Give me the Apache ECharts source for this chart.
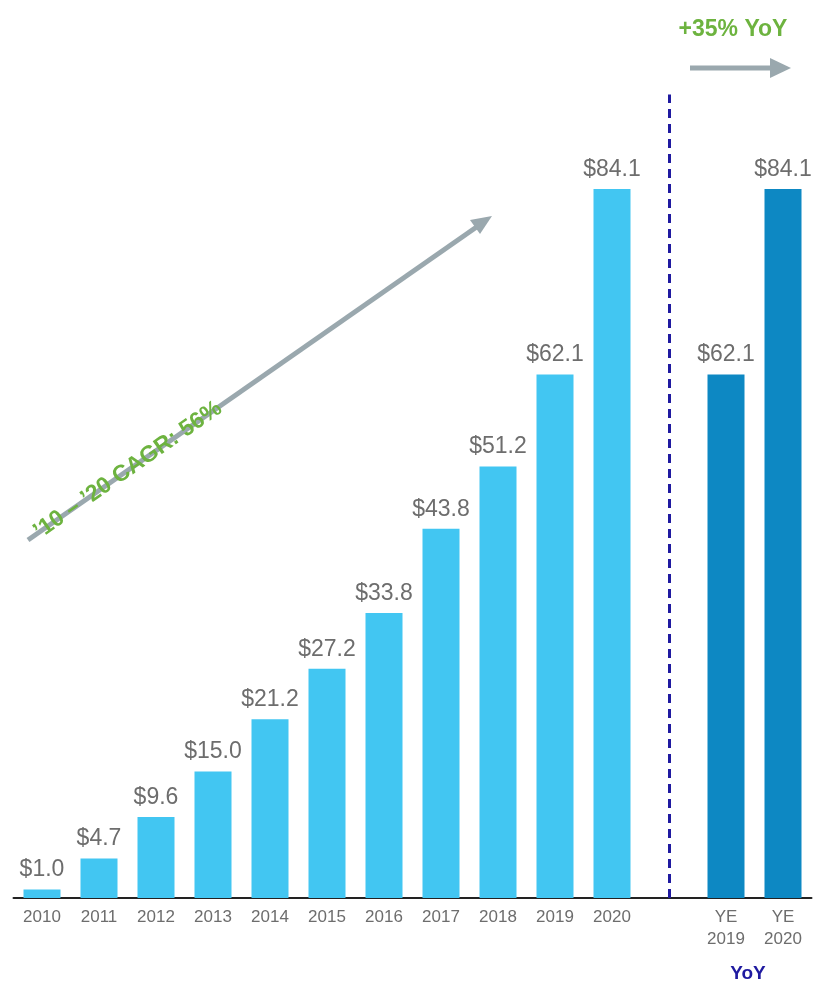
<!DOCTYPE html><html><head><meta charset="utf-8"><script src="https://cdn.jsdelivr.net/npm/echarts@6/dist/echarts.min.js"></script></head><body style="margin:0"><div id="c" style="width:829px;height:1000px"></div><script>
const categories=['2010','2011','2012','2013','2014','2015','2016','2017','2018','2019','2020','gap','YE\n2019','YE\n2020'];
const values=[1.0,4.7,9.6,15.0,21.2,27.2,33.8,43.8,51.2,62.1,84.1,null,62.1,84.1];
const light='#42C6F2',dark='#0D88C3';
const chart=echarts.init(document.getElementById('c'));
chart.setOption({
 animation:false,
 grid:{left:13.5,right:17.5,top:55,bottom:102,containLabel:false},
 xAxis:{type:'category',data:categories,axisTick:{show:false},
  axisLine:{lineStyle:{color:'#222',width:2}},
  axisLabel:{interval:0,color:'#6d6d6d',fontSize:17,fontFamily:'Arial, Liberation Sans',margin:8,lineHeight:22,
   formatter:v=>v==='gap'?'':v}},
 yAxis:{type:'value',min:0,max:100,show:false,splitLine:{show:false}},
 series:[{type:'bar',barWidth:37,
  data:values.map((v,i)=>v==null?null:{value:v,itemStyle:{color:i>11?dark:light}}),
  label:{show:true,position:'top',distance:8,color:'#6d6d6d',fontSize:23,fontFamily:'Arial, Liberation Sans',formatter:p=>'$'+p.value.toFixed(1)},
  markLine:{symbol:'none',silent:true,label:{show:false},
   lineStyle:{color:'#1f1aa0',type:[9,6],width:3},
   data:[[{xAxis:'gap',yAxis:0},{xAxis:'gap',yAxis:95.3}]]}
 }],
 graphic:[
  {type:'line',shape:{x1:28,y1:540,x2:478,y2:226},style:{stroke:'#9aa8ae',lineWidth:5}},
  {type:'polygon',shape:{points:[[492,216],[470,220],[480,234]]},style:{fill:'#9aa8ae'}},
  {type:'text',x:128,y:470,rotation:Math.atan2(322,462),style:{text:'’10 – ’20 CAGR: 56%',fill:'#6db33f',font:'bold 23px Arial, Liberation Sans',textAlign:'center',textVerticalAlign:'middle'}},
  {type:'line',shape:{x1:690,y1:68,x2:774,y2:68},style:{stroke:'#9aa8ae',lineWidth:5}},
  {type:'polygon',shape:{points:[[791,68],[770,58],[770,78]]},style:{fill:'#9aa8ae'}},
  {type:'text',x:733,y:30,style:{text:'+35% YoY',fill:'#6db33f',font:'bold 23px Arial, Liberation Sans',textAlign:'center',textVerticalAlign:'middle'}},
  {type:'text',x:748,y:974,style:{text:'YoY',fill:'#1f1aa0',font:'bold 19px Arial, Liberation Sans',textAlign:'center',textVerticalAlign:'middle'}}
 ]
});
</script></body></html>
